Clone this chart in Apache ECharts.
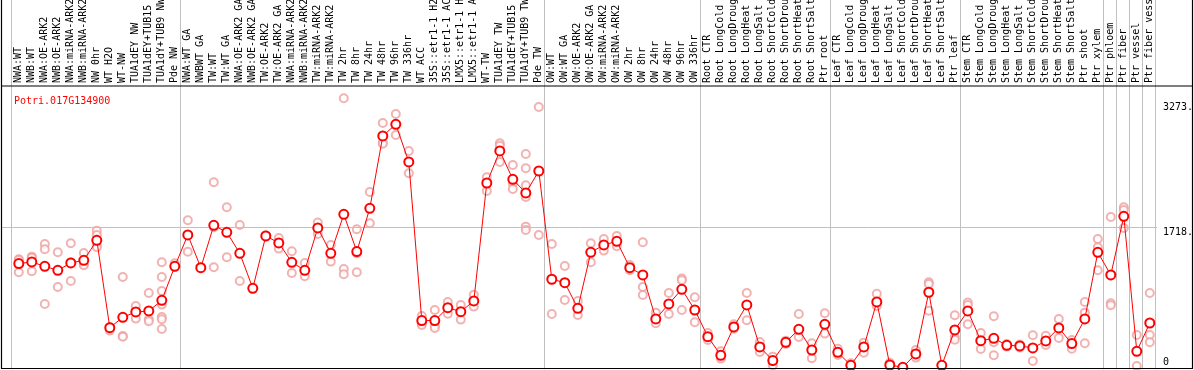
<!DOCTYPE html>
<html>
<head>
<meta charset="utf-8">
<script src="https://cdn.jsdelivr.net/npm/echarts@6/dist/echarts.min.js"></script>
<style>
html,body{margin:0;padding:0;background:#fff;}
#chart{width:1194px;height:370px;}
</style>
</head>
<body>
<div id="chart"></div>
<script>
const titleText = 'Potri.017G134900';
const categories = [
 'NWA:WT','NWB:WT','NWA:OE-ARK2','NWB:OE-ARK2','NWA:miRNA-ARK2','NWB:miRNA-ARK2','NW 0hr','WT H2O','WT-NW','TUA1dEY NW','TUA1dEY+TUB15 NW','TUA1dY+TUB9 NW','Pde NW',
 'NWA:WT GA','NWBWT GA','TW:WT','TW:WT GA','NWA:OE-ARK2 GA','NWB:OE-ARK2 GA','TW:OE-ARK2','TW:OE-ARK2 GA','NWA:miRNA-ARK2','NWB:miRNA-ARK2','TW:miRNA-ARK2','TW:miRNA-ARK2',
 'TW 2hr','TW 8hr','TW 24hr','TW 48hr','TW 96hr','TW 336hr','WT ACC','35S::etr1-1 H2O','35S::etr1-1 ACC','LMX5::etr1-1 H2O','LMX5::etr1-1 ACC','WT-TW','TUA1dEY TW','TUA1dEY+TUB15 TW','TUA1dY+TUB9 TW','Pde TW',
 'OW:WT','OW:WT GA','OW:OE-ARK2','OW:OE-ARK2 GA','OW:miRNA-ARK2','OW:miRNA-ARK2','OW 2hr','OW 8hr','OW 24hr','OW 48hr','OW 96hr','OW 336hr',
 'Root CTR','Root LongCold','Root LongDrought','Root LongHeat','Root LongSalt','Root ShortCold','Root ShortDrought','Root ShortHeat','Root ShortSalt','Ptr root',
 'Leaf CTR','Leaf LongCold','Leaf LongDrought','Leaf LongHeat','Leaf LongSalt','Leaf ShortCold','Leaf ShortDrought','Leaf ShortHeat','Leaf ShortSalt','Ptr leaf',
 'Stem CTR','Stem LongCold','Stem LongDrought','Stem LongHeat','Stem LongSalt','Stem ShortCold','Stem ShortDrought','Stem ShortHeat','Stem ShortSalt','Ptr shoot',
 'Ptr xylem','Ptr phloem','Ptr fiber','Ptr vessel','Ptr fiber vessel'
];
const means = [
 1276,1296,1243,1195,1284,1316,1557,503,628,692,704,833,1243,
 1622,1227,1738,1654,1400,978,1610,1525,1292,1195,1706,1400,1871,1421,1944,2817,2958,2503,588,588,744,696,825,2249,2636,2294,2129,2394,
 1087,1046,736,1412,1501,1545,1227,1139,608,789,966,716,
 394,169,511,777,270,105,326,483,233,543,
 205,48,270,813,52,24,185,930,48,475,
 704,346,374,290,282,258,342,499,310,608,
 1412,1139,1847,217,559
];
const replicates = [
 [1328,1320,1171],[1360,1348,1183],[1513,1449,789],[1412,994],[1521,1066,1292],[1404,1272,1256],[1674,1622,1493,1473],[511,467],[1115,402,394],[765,612],[922,604,579],[1292,1115,946,781,632,604,487],[1280,1239],
 [1799,1420],[1231],[2258,1714,1231],[1956,1352],[1742,1066],[],[1618,1602],[1585,1457],[1425,1163],[1284,1123],[1771,1634],[1501,1300],
 [3273,1211,1147],[1690,1400,1171],[2141,1763],[2974,2736,2724],[3082,2829],[2636,2366],[644,555,535],[716,523,499],[813,672],[777,600],[901,757],[2318,2153],[2728,2700,2503],[2467,2245,2177],[2600,2427,2221,2080,1722,1682],[3167,1622],
 [1513,668],[1247,837],[825,656],[1521,1292],[1573,1433],[1610,1485],[1260,1195],[1533,994,897],[684,555],[922,668],[1095,1074,716],[869,567],
 [439,354],[217,129],[543,491],[922,592],[330,209],[153,48],[346,306],[668,390],[314,133],[676,431],
 [249,173],[72,32],[322,201],[913,765],[80],[],[233,141],[1050,1030,708],[],[652,390,358],
 [805,777,543],[439,245],[640,326,169],[306,274],[298,262],[410,101],[406,294],[608,378],[354,249],[813,684,314],
 [1573,1473,1195],[1839,797,773],[1956,1924,1706],[414,40],[922,414,326]
];
const separatorIdx = [0,13,41,53,63,73,84,85,86,87,88];
const gridLineValue = 1718;
const yTickValues = [3273, 1718, 0];
const yTickLabels = ['3273.', '1718.', '0'];

const FONT = '"DejaVu Sans Mono", monospace';
const repData = [];
replicates.forEach((arr, i) => arr.forEach(v => repData.push([i, v])));

const chart = echarts.init(document.getElementById('chart'), null, {renderer: 'canvas'});
const option = {
  animation: false,
  backgroundColor: '#fff',
  title: {
    text: titleText, left: 9, top: 91,
    textStyle: {color: '#ff0000', fontSize: 10, fontWeight: 'normal', fontFamily: FONT}
  },
  grid: [
    {left: 12.3, width: 1144, top: 86, height: 283.3, containLabel: false, outerBoundsMode: 'none'},
    {left: 2, width: 1155, top: 86, height: 283.3, containLabel: false, outerBoundsMode: 'none'}
  ],
  xAxis: [
    {
      type: 'category', gridIndex: 0, data: categories, position: 'top',
      boundaryGap: true,
      axisLine: {show: false}, axisTick: {show: false}, splitLine: {show: false},
      axisLabel: {
        interval: 0, rotate: 90, margin: 3, align: 'left', verticalAlign: 'middle',
        fontSize: 10, fontFamily: FONT, color: '#000', hideOverlap: false
      }
    },
    {
      type: 'value', gridIndex: 1, min: -0.730769, max: 88.115385, show: false
    }
  ],
  yAxis: [
    {type: 'value', gridIndex: 0, min: 0, max: 3420, show: false, splitLine: {show: false}},
    {type: 'value', gridIndex: 1, min: 0, max: 3420, show: false, splitLine: {show: false}}
  ],
  series: [
    {
      type: 'custom', xAxisIndex: 1, yAxisIndex: 1, z: 1, silent: true,
      data: separatorIdx.map(j => [j, 0]),
      renderItem: function (params, api) {
        const p = api.coord([api.value(0), 0]);
        return {type: 'line', shape: {x1: p[0], y1: 0, x2: p[0], y2: p[1]},
          style: {stroke: '#c0c0c0', lineWidth: 1}};
      }
    },
    {
      type: 'line', xAxisIndex: 1, yAxisIndex: 1, data: [[0, 0]], symbol: 'none',
      lineStyle: {opacity: 0}, z: 1, silent: true,
      markLine: {
        silent: true, symbol: 'none', label: {show: false},
        lineStyle: {color: '#c0c0c0', width: 1, type: 'solid'},
        data: [{yAxis: gridLineValue}]
      }
    },
    {
      type: 'scatter', xAxisIndex: 0, yAxisIndex: 0, data: repData, z: 3,
      symbol: 'emptyCircle', symbolSize: 8,
      itemStyle: {color: '#ef9f9f', borderColor: '#ef9f9f', borderWidth: 1.2}
    },
    {
      type: 'line', xAxisIndex: 0, yAxisIndex: 0, data: means, z: 5,
      symbol: 'emptyCircle', symbolSize: 9, showAllSymbol: true,
      lineStyle: {color: '#ff0000', width: 1},
      itemStyle: {color: '#ff0000', borderColor: '#ff0000', borderWidth: 1.8}
    }
  ]
};
chart.setOption(option);

const offsets = [9.3, 5.9, -6.8];
const graphics = [
  {type: 'rect', shape: {x: 1.5, y: -2, width: 1191, height: 370.5}, style: {fill: null, stroke: '#000', lineWidth: 1.2}, z: 100, silent: true},
  {type: 'line', shape: {x1: 1.5, y1: 86, x2: 1192.5, y2: 86}, style: {stroke: '#000', lineWidth: 1.2}, z: 100, silent: true}
];
yTickValues.forEach((v, k) => {
  const py = chart.convertToPixel({yAxisIndex: 1}, v);
  graphics.push({
    type: 'text', x: 1163, y: py + offsets[k], z: 100, silent: true,
    style: {text: yTickLabels[k], fill: '#000', font: '10px ' + FONT, align: 'left', verticalAlign: 'middle'}
  });
});
chart.setOption({graphic: graphics});
</script>
</body>
</html>
